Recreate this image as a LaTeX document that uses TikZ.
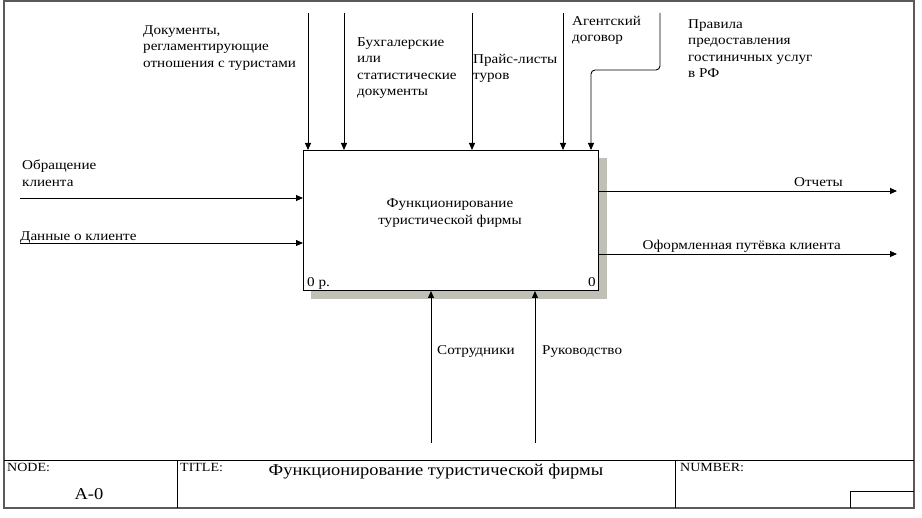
\documentclass[tikz,border=0pt]{standalone}
\usepackage{fontspec}
\setmainfont[FakeStretch=1.12]{Liberation Serif}
\usetikzlibrary{arrows.meta}
\definecolor{shadowc}{RGB}{192,192,182}
\definecolor{framec}{RGB}{90,90,90}
\begin{document}
\begin{tikzpicture}[x=1pt,y=-1pt,
  lbl/.style={font=\fontsize{13.5}{16.5}\selectfont, align=left, inner sep=0pt, anchor=north west},
  lblr/.style={lbl, anchor=north east, align=right},
  small/.style={font=\fontsize{12.5}{14}\selectfont, inner sep=0pt, anchor=north west},
  arr/.style={-{Triangle[length=7pt,width=6pt]}, line width=0.9pt},
  frameline/.style={line width=1.4pt, draw=framec},
  thin/.style={line width=1pt}]
\useasboundingbox (0,0) rectangle (922,518);
% outer frame
\draw[frameline] (4,1) rectangle (914,508);
% shadow and main box
\fill[shadowc] (311,158) rectangle (607,299);
\node[draw, fill=white, line width=1pt, minimum width=295pt, minimum height=140pt,
      anchor=north west, inner sep=0pt] (box) at (303,150) {};
\node[lbl, align=center, anchor=center] (boxtxt) at (450,213) {Функционирование\\туристической фирмы};
\node[lbl] (num0p) at (307,277) {0 р.};
\node[lblr] (num0) at (596,277) {0};
% control arrows
\coordinate (t1) at (308,13);
\coordinate (t2) at (344,13);
\coordinate (t3) at (472,13);
\coordinate (t4) at (563,13);
\coordinate (t5) at (660,13);
\coordinate (t5a) at (660,70);
\coordinate (t5b) at (591,70);
\draw[arr] (t1) -- (t1 |- box.north);
\draw[arr] (t2) -- (t2 |- box.north);
\draw[arr] (t3) -- (t3 |- box.north);
\draw[arr] (t4) -- (t4 |- box.north);
\draw[arr, rounded corners=4pt] (t5) -- (t5a) -- (t5b) -- (t5b |- box.north);
% input arrows
\coordinate (i1) at (20,198);
\coordinate (i2) at (20,243);
\draw[arr] (i1) -- (i1 -| box.west);
\draw[arr] (i2) -- (i2 -| box.west);
% output arrows
\coordinate (o1) at (897,191);
\coordinate (o2) at (897,254);
\draw[arr] (o1 -| box.east) -- (o1);
\draw[arr] (o2 -| box.east) -- (o2);
% mechanism arrows
\coordinate (m1) at (431,443);
\coordinate (m2) at (535,443);
\draw[arr] (m1) -- (m1 |- box.south);
\draw[arr] (m2) -- (m2 |- box.south);
% labels
\node[lbl] (L1) at (143,25) {Документы,\\регламентирующие\\отношения с туристами};
\node[lbl] (L2) at (357,37) {Бухгалерские\\или\\статистические\\документы};
\node[lbl] (L3) at (473,54) {Прайс-листы\\туров};
\node[lbl] (L4) at (572,16) {Агентский\\договор};
\node[lbl] (L5) at (688,19) {Правила\\предоставления\\гостиничных услуг\\в РФ};
\node[lbl] (L6) at (22,160) {Обращение\\клиента};
\node[lbl] (L7) at (20,231) {Данные о клиенте};
\node[lblr] (L8) at (843,177) {Отчеты};
\node[lblr] (L9) at (841,240) {Оформленная путёвка клиента};
\node[lbl] (L10) at (437,345) {Сотрудники};
\node[lbl] (L11) at (542,345) {Руководство};
% title block
\draw[thin] (4,461) -- (914,461);
\draw[thin] (177,461) -- (177,508);
\draw[thin] (675,461) -- (675,508);
\draw[thin] (850,508) -- (850,492) -- (914,492);
\node[small] (nodel) at (7,463) {NODE:};
\node[font=\fontsize{16.5}{18}\selectfont, inner sep=0pt] (a0) at (89,494) {A-0};
\node[small] (titlel) at (180,463) {TITLE:};
\node[font=\fontsize{16.5}{18}\selectfont, inner sep=0pt] (titletxt) at (436,472) {Функционирование туристической фирмы};
\node[small] (numl) at (680,463) {NUMBER:};
\end{tikzpicture}
\end{document}
